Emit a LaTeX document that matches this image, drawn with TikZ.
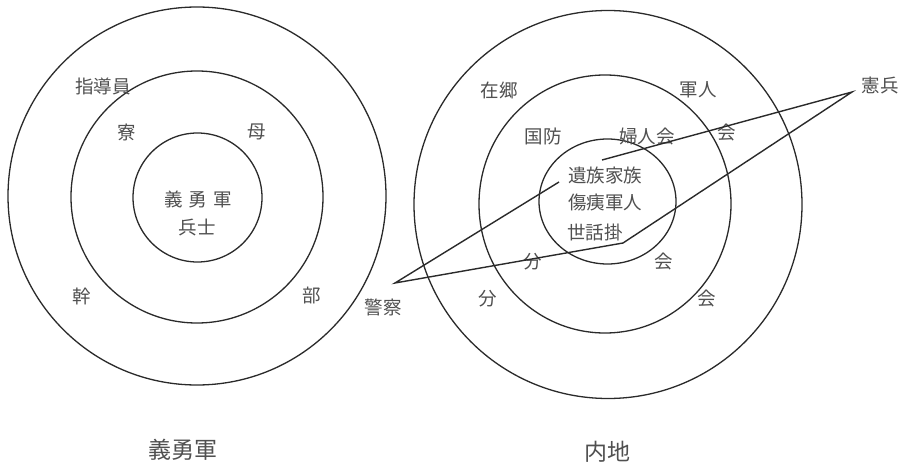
\documentclass[tikz,border=0pt]{standalone}
\usepackage{fontspec}
\newfontfamily\jp{Noto Sans CJK JP}
\definecolor{ink}{HTML}{2A2A2A}
\definecolor{txt}{HTML}{505050}
\begin{document}
\begin{tikzpicture}[x=1pt,y=-1pt,
  ring/.style={draw=ink,line width=1.3pt},
  lbl/.style={text=txt,font=\jp\fontsize{18.5}{20}\selectfont,inner sep=0pt},
  titlelbl/.style={text=txt,font=\jp\fontsize{23}{25}\selectfont,inner sep=0pt},
  link/.style={draw=ink,line width=1.4pt,line join=miter}]
\useasboundingbox (0,0) rectangle (912,465);
\fill[white] (0,0) rectangle (912,465);
% left circles
\draw[ring] (197,196) circle[radius=189];
\draw[ring] (197,197) circle[radius=126];
\draw[ring] (197.5,197.5) circle[radius=64.5];
% right circles
\draw[ring] (608,204.5) circle[radius=194];
\draw[ring] (605,204) ellipse[x radius=126,y radius=129];
\draw[ring] (607.5,201.5) ellipse[x radius=68.5,y radius=62.5];
% left labels
\node[lbl] (shido) at (103,86) {指導員};
\node[lbl] (ryo) at (127,132) {寮};
\node[lbl] (bo) at (257,132) {母};
\node[lbl] (giyugun) at (198,199) {義\hspace{6pt}勇\hspace{6pt}軍};
\node[lbl] (heishi) at (197,228) {兵士};
\node[lbl] (kan) at (82,296) {幹};
\node[lbl] (bu) at (312,296) {部};
\node[titlelbl] (capL) at (183,450) {義勇軍};
% right labels
\node[lbl] (zaigo) at (499,90) {在郷};
\node[lbl] (gunjin) at (698,90) {軍人};
\node[lbl] (kokubo) at (543,136) {国防};
\node[lbl] (fujin) at (647,136) {婦人会};
\node[lbl] (kai1) at (727,133) {会};
\node[lbl] (izoku) at (605,175) {遺族家族};
\node[lbl] (shoi) at (605,203) {傷痍軍人};
\node[lbl] (sewa) at (595,232) {世話掛};
\node[lbl] (bun1) at (533,262) {分};
\node[lbl] (kai2) at (664,262) {会};
\node[lbl] (bun2) at (488,299) {分};
\node[lbl] (kai3) at (707,299) {会};
\node[titlelbl] (capR) at (607,452) {内地};
\node[lbl] (keisatsu) at (383,307) {警察};
\node[lbl] (kenpei) at (880,85) {憲兵};
% connector points
\coordinate (K) at (395,283);
\coordinate (H) at (852,92);
\coordinate (e1) at (559,182);
\coordinate (bend) at (623,243);
\coordinate (e3) at (602,160);
\draw[link] (e1) -- (K) -- (bend) -- (H) -- (e3);
\end{tikzpicture}
\end{document}
